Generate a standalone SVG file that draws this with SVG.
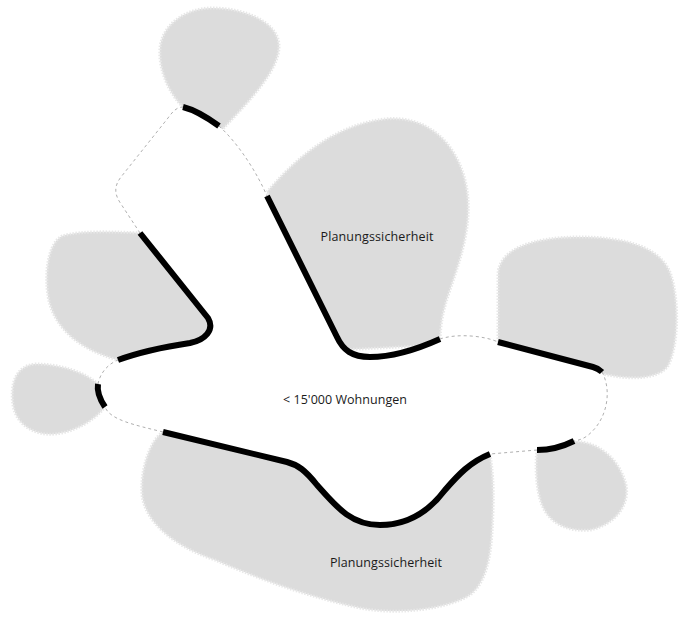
<svg xmlns="http://www.w3.org/2000/svg" width="682" height="618" viewBox="0 0 682 618">
<style>
.blob{fill:#dcdcdc;stroke:#e8e8e8;stroke-width:3;stroke-dasharray:1.5 1.5}
.dash{fill:none;stroke:#9a9a9a;stroke-width:0.8;stroke-dasharray:3 3}
.thick{fill:none;stroke:#000;stroke-width:6;stroke-linecap:butt;stroke-linejoin:round}
.lbl{font-family:"Open Sans","Noto Sans","Liberation Sans",sans-serif;font-size:12.5px;fill:#1a1a1a;text-anchor:middle}
</style>
<rect width="682" height="618" fill="#fff"/>
<g id="blob-top"><path class="blob" d="M183,107 C170,95 158,70 160,48 C162,25 185,8 212,8 C245,8 278,22 279,45 C280,70 250,100 222,130 L200,135 Z"/></g>
<g id="blob-upper-right"><path class="blob" d="M267,192 C290,165 330,125 385,119 C425,115 455,140 465,180 C475,220 460,260 450,290 C443,310 440,325 440,345 L340,350 Z"/></g>
<g id="blob-right"><path class="blob" d="M498,345 L498,275 C498,250 530,237 580,237 C625,237 662,247 671,275 C679,300 679,345 668,366 C658,380 628,380 603,374 L600,385 L498,360 Z"/></g>
<g id="blob-left"><path class="blob" d="M140,233 C120,232 80,230 62,236 C45,245 44,285 50,305 C58,330 80,350 118,360 L130,375 L225,335 L160,230 Z"/></g>
<g id="blob-far-left"><path class="blob" d="M98,384 C85,372 60,364 35,364 C15,366 10,385 13,405 C16,425 35,436 55,434 C75,432 95,420 105,407 L115,395 Z"/></g>
<g id="blob-bottom"><path class="blob" d="M163,432 C150,440 140,470 142,495 C145,520 170,545 215,560 C250,575 300,595 360,608 C400,616 450,608 470,595 C490,580 492,545 493,510 C494,485 492,465 490,454 L380,480 Z"/></g>
<g id="blob-bottom-right"><path class="blob" d="M537,450 C535,465 536,490 542,505 C550,525 570,532 590,530 C615,525 630,505 626,485 C620,460 600,442 574,441 L555,435 Z"/></g>
<g id="center">
<path fill="#fff" d="M183,107 C195,110 208,118 219,126 C240,145 258,175 267,196 L337,337 C343,350 352,357 370,357 C395,357 420,348 440,339 C458,333 485,336 498,342 L593,367 C597,368 600,370 602,372 C612,390 608,420 587,436 C583,439 579,440 574,441 C560,448 548,450 537,450 L490,454 C470,462 458,475 445,490 C430,510 410,525 380,525 C350,525 335,505 317,485 C305,470 298,465 287,462 L163,432 C135,425 110,420 105,407 C99,398 97,390 98,384 C100,373 108,364 118,360 C140,352 170,346 190,343 C205,340 215,330 208,318 L140,233 L121,204 C114,194 114,186 121,177 L168,118 C173,111 177,107 183,107 Z"/>
</g>
<g id="connectors">
<path class="dash" d="M219,126 C240,145 258,175 267,196"/>
<path class="dash" d="M440,339 C458,333 485,336 498,342"/>
<path class="dash" d="M602,372 C612,390 608,420 587,436 C583,439 579,440 574,441"/>
<path class="dash" d="M537,450 L490,454"/>
<path class="dash" d="M163,432 C135,425 110,420 105,407"/>
<path class="dash" d="M98,384 C100,373 108,364 118,360"/>
<path class="dash" d="M140,233 L121,204 C114,194 114,186 121,177 L168,118 C173,111 177,107 183,107"/>
<path class="thick" d="M183,107 C195,110 208,118 219,126"/>
<path class="thick" d="M267,196 L337,337 C343,350 352,357 370,357 C395,357 420,348 440,339"/>
<path class="thick" d="M498,342 L593,367 C597,368 600,370 602,372"/>
<path class="thick" d="M574,441 C560,448 548,450 537,450"/>
<path class="thick" d="M490,454 C470,462 458,475 445,490 C430,510 410,525 380,525 C350,525 335,505 317,485 C305,470 298,465 287,462 L163,432"/>
<path class="thick" d="M105,407 C99,398 97,390 98,384"/>
<path class="thick" d="M118,360 C140,352 170,346 190,343 C205,340 215,330 208,318 L140,233"/>
</g>
<text class="lbl" x="377" y="241" textLength="113">Planungssicherheit</text>
<text class="lbl" x="386" y="567" textLength="112">Planungssicherheit</text>
<text class="lbl" x="345" y="404" textLength="124">&lt; 15'000 Wohnungen</text>
</svg>
